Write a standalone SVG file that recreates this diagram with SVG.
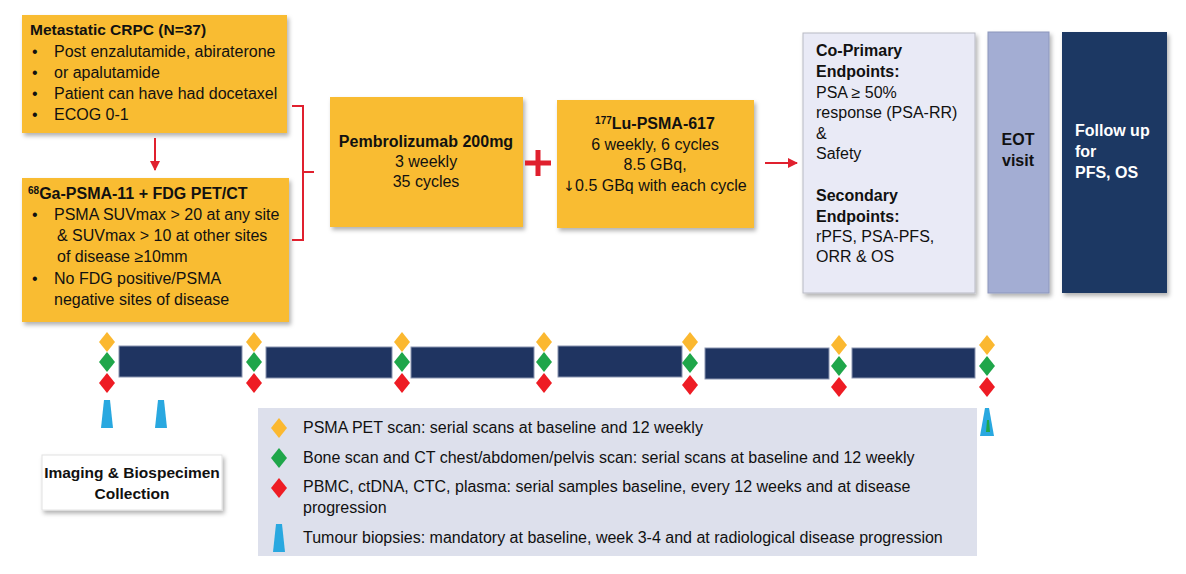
<svg xmlns="http://www.w3.org/2000/svg" width="1186" height="574" viewBox="0 0 1186 574">
<defs>
<filter id="sh" x="-10%" y="-10%" width="125%" height="125%">
<feDropShadow dx="2" dy="3" stdDeviation="2" flood-color="#000" flood-opacity="0.3"/>
</filter>
<marker id="ah" viewBox="0 0 10 10" refX="9" refY="5" markerWidth="5" markerHeight="5" orient="auto">
<path d="M0,0 L10,5 L0,10 z" fill="#e0202e"/>
</marker>
<path id="dia" d="M0,-10 L8,0 L0,10 L-8,0 z"/>
<path id="trap" d="M-3,-14 L3,-14 L6,14 L-6,14 z"/>
</defs>
<style>
text{font-family:"Liberation Sans",Arial,sans-serif;font-size:16px;fill:#111;}
.b{font-weight:bold;}
.s{font-size:15.5px;}
.c{text-anchor:middle;}
.w{fill:#fff;}
.org{fill:#f9bc32;filter:url(#sh);}
.bar{fill:#1f3461;stroke:#8a94b0;stroke-width:1;}
.y{fill:#fbb830;} .g{fill:#1fa64a;} .r{fill:#ee1c24;} .bl{fill:#29a8e0;}
.con{stroke:#e0202e;stroke-width:2;fill:none;}
</style>

<g id="node-crpc">
<rect class="org" x="22" y="15" width="265" height="118"/>
<text class="b s" x="30" y="35">Metastatic CRPC (N=37)</text>
<text x="32" y="57">•</text><text x="54" y="57">Post enzalutamide, abiraterone</text>
<text x="32" y="78">•</text><text x="54" y="78">or apalutamide</text>
<text x="32" y="99">•</text><text x="54" y="99">Patient can have had docetaxel</text>
<text x="32" y="120">•</text><text x="54" y="120">ECOG 0-1</text>
</g>

<g id="node-pet">
<rect class="org" x="22" y="178" width="267" height="144"/>
<text class="b" x="28" y="199"><tspan font-size="10" dy="-5">68</tspan><tspan dy="5">Ga-PSMA-11 + FDG PET/CT</tspan></text>
<text x="32" y="220">•</text><text x="54" y="220">PSMA SUVmax &gt; 20 at any site</text>
<text x="57" y="241">&amp; SUVmax &gt; 10 at other sites</text>
<text x="57" y="262">of disease ≥10mm</text>
<text x="32" y="284">•</text><text x="54" y="284">No FDG positive/PSMA</text>
<text x="54" y="305">negative sites of disease</text>
</g>

<g id="node-pembro">
<rect class="org" x="330" y="97" width="193" height="130"/>
<text class="b c" x="426" y="147">Pembrolizumab 200mg</text>
<text class="c" x="426" y="167">3 weekly</text>
<text class="c" x="426" y="187">35 cycles</text>
</g>

<g id="node-plus">
<path d="M538,150 V176 M525,163 H551" stroke="#e0202e" stroke-width="5" fill="none"/>
</g>

<g id="node-lu">
<rect class="org" x="557" y="100" width="197" height="128"/>
<text class="b c" x="655" y="129"><tspan font-size="10" dy="-5">177</tspan><tspan dy="5">Lu-PSMA-617</tspan></text>
<text class="c" x="655" y="150">6 weekly, 6 cycles</text>
<text class="c" x="655" y="170">8.5 GBq,</text>
<text class="c" x="655" y="191"><tspan font-family="DejaVu Sans" font-size="14">↓</tspan>0.5 GBq with each cycle</text>
</g>

<g id="node-endpoints">
<rect x="803" y="33" width="172" height="260" fill="#e9eaf6" stroke="#b8bac4" stroke-width="1" filter="url(#sh)"/>
<text class="b" x="816" y="56">Co-Primary</text>
<text class="b" x="816" y="77">Endpoints:</text>
<text x="816" y="98">PSA ≥ 50%</text>
<text x="816" y="118">response (PSA-RR)</text>
<text x="816" y="139">&amp;</text>
<text x="816" y="159">Safety</text>
<text class="b" x="816" y="201">Secondary</text>
<text class="b" x="816" y="222">Endpoints:</text>
<text x="816" y="242">rPFS, PSA-PFS,</text>
<text x="816" y="262">ORR &amp; OS</text>
</g>

<g id="node-eot">
<rect x="988" y="32" width="61" height="261" fill="#a3add3" stroke="#8c96bc" stroke-width="1" filter="url(#sh)"/>
<text class="b c" x="1018" y="145">EOT</text>
<text class="b c" x="1018" y="166">visit</text>
</g>

<g id="node-followup">
<rect x="1062" y="32" width="105" height="261" fill="#1f3864" filter="url(#sh)"/>
<text class="b w" x="1075" y="136">Follow up</text>
<text class="b w" x="1075" y="157">for</text>
<text class="b w" x="1075" y="178">PFS, OS</text>
</g>

<g id="connectors">
<line class="con" x1="155" y1="138" x2="155" y2="170" marker-end="url(#ah)"/>
<path class="con" d="M292,106 H303 V240 H292 M303,172 H314"/>
<line class="con" x1="765" y1="163" x2="797" y2="163" marker-end="url(#ah)"/>
</g>

<g id="timeline">
<rect class="bar" x="119" y="346" width="123" height="31"/>
<rect class="bar" x="266" y="347" width="126" height="31"/>
<rect class="bar" x="411" y="347" width="123" height="31"/>
<rect class="bar" x="558" y="346" width="124" height="31"/>
<rect class="bar" x="705" y="348" width="124" height="31"/>
<rect class="bar" x="852" y="348" width="123" height="30"/>
<use href="#dia" class="y" x="107" y="342"/><use href="#dia" class="g" x="107" y="362"/><use href="#dia" class="r" x="107" y="383"/>
<use href="#dia" class="y" x="254" y="342"/><use href="#dia" class="g" x="254" y="362"/><use href="#dia" class="r" x="254" y="383"/>
<use href="#dia" class="y" x="402" y="342"/><use href="#dia" class="g" x="402" y="362"/><use href="#dia" class="r" x="402" y="383"/>
<use href="#dia" class="y" x="544" y="342"/><use href="#dia" class="g" x="544" y="362"/><use href="#dia" class="r" x="544" y="383"/>
<use href="#dia" class="y" x="690" y="342"/><use href="#dia" class="g" x="690" y="363"/><use href="#dia" class="r" x="690" y="385"/>
<use href="#dia" class="y" x="839" y="345"/><use href="#dia" class="g" x="839" y="366"/><use href="#dia" class="r" x="839" y="387"/>
<use href="#dia" class="y" x="987" y="345"/><use href="#dia" class="g" x="987" y="366"/><use href="#dia" class="r" x="987" y="387"/>
<use href="#trap" class="bl" x="107" y="414"/>
<use href="#trap" class="bl" x="161" y="414"/>
<path d="M985,408 L989,408 L994,436 L980,436 z" fill="#29a8e0"/>
<path d="M987,420 L989,420 L990,432 L986,432 z" fill="#1fa64a"/>
</g>

<g id="node-imaging">
<rect x="42" y="455" width="180" height="55" fill="#fff" stroke="#e2e2e2" filter="url(#sh)"/>
<text class="b c s" x="132" y="478">Imaging &amp; Biospecimen</text>
<text class="b c s" x="132" y="499">Collection</text>
</g>

<g id="legend">
<rect x="258" y="408" width="719" height="148" fill="#dde0ec"/>
<use href="#dia" class="y" x="279" y="428"/>
<text x="303" y="433">PSMA PET scan: serial scans at baseline and 12 weekly</text>
<use href="#dia" class="g" x="279" y="458"/>
<text x="303" y="463">Bone scan and CT chest/abdomen/pelvis scan: serial scans at baseline and 12 weekly</text>
<use href="#dia" class="r" x="279" y="488"/>
<text x="303" y="492">PBMC, ctDNA, CTC, plasma: serial  samples baseline, every 12 weeks and at disease</text>
<text x="303" y="513">progression</text>
<use href="#trap" class="bl" x="279" y="538"/>
<text x="303" y="543">Tumour biopsies: mandatory at baseline, week 3-4 and at radiological disease progression</text>
</g>
</svg>
